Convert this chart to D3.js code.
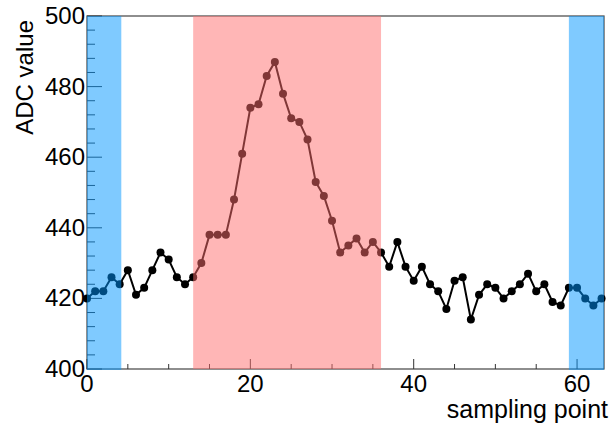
<!DOCTYPE html>
<html><head><meta charset="utf-8">
<script src="https://cdn.jsdelivr.net/npm/d3@7"></script>
<style>body{margin:0;background:#fff}svg{display:block}</style>
</head><body>
<script>
const samples = d3.range(64);
const adc = [420,422,422,426,424,428,421,423,428,433,431,426,424,426,430,438,438,438,448,461,
474,475,483,487,478,471,470,465,453,449,442,433,435,437,433,436,433,429,436,429,
425,429,424,422,417,425,426,414,421,424,423,420,422,424,427,422,424,419,418,423,
423,420,418,420];
const baselineRegions = [[0,4.2],[59,63.3]];
const signalRegion = [13,36];
const xTicks = [0,20,40,60];
const yTicks = [400,420,440,460,480,500];
const xTitle = "sampling point";
const yTitle = "ADC value";

const W=612,H=428, L=87, R=604, T=16, B=369;
const svg=d3.select("body").append("svg").attr("width",W).attr("height",H);
svg.append("rect").attr("width",W).attr("height",H).attr("fill","#fff");
const x=d3.scaleLinear().domain([0,63.3]).range([L,R]);
const y=d3.scaleLinear().domain([400,500]).range([B,T]);
const font="'Liberation Sans', Arial, Helvetica, sans-serif";

// frame
svg.append("rect").attr("x",L).attr("y",T).attr("width",R-L).attr("height",B-T)
  .attr("fill","none").attr("stroke","#444").attr("stroke-width",1.2);
// y ticks (inward)
const yMinor=d3.range(400,500.1,4);
svg.append("g").selectAll("line").data(yMinor).join("line")
  .attr("x1",L).attr("x2",d=>L+(d%20===0?15:8))
  .attr("y1",d=>y(d)).attr("y2",d=>y(d)).attr("stroke","#333").attr("stroke-width",1);
const xMinor=d3.range(0,63.3,5);
svg.append("g").selectAll("line").data(xMinor).join("line")
  .attr("y1",B).attr("y2",d=>B-(d%20===0?10:5))
  .attr("x1",d=>x(d)).attr("x2",d=>x(d)).attr("stroke","#333").attr("stroke-width",1);
// tick labels
svg.append("g").selectAll("text").data(yTicks).join("text")
  .attr("x",L-2).attr("y",d=>y(d)+8).attr("text-anchor","end")
  .attr("font-family",font).attr("font-size",24).attr("fill","#000").text(d=>d);
svg.append("g").selectAll("text").data(xTicks).join("text")
  .attr("x",d=>x(d)).attr("y",B+23).attr("text-anchor","middle")
  .attr("font-family",font).attr("font-size",24).attr("fill","#000").text(d=>d);
// titles
svg.append("text").attr("x",608).attr("y",418).attr("text-anchor","end")
  .attr("font-family",font).attr("font-size",25).text(xTitle);
svg.append("text").attr("transform","translate(33,20) rotate(-90)").attr("text-anchor","end")
  .attr("font-family",font).attr("font-size",24).text(yTitle);

// data
const line=d3.line().x((d,i)=>x(samples[i])).y(d=>y(d));
svg.append("path").datum(adc).attr("d",line).attr("fill","none").attr("stroke","#000").attr("stroke-width",2);
svg.append("g").selectAll("circle").data(adc).join("circle")
  .attr("cx",(d,i)=>x(samples[i])).attr("cy",d=>y(d)).attr("r",4).attr("fill","#000");

// overlays
svg.append("g").selectAll("rect").data(baselineRegions).join("rect")
  .attr("x",d=>x(d[0])).attr("width",d=>x(d[1])-x(d[0]))
  .attr("y",T).attr("height",B-T+1).attr("fill","rgb(0,150,255)").attr("fill-opacity",0.5);
svg.append("rect").attr("x",x(signalRegion[0])).attr("width",x(signalRegion[1])-x(signalRegion[0]))
  .attr("y",T).attr("height",B-T).attr("fill","rgb(255,110,110)").attr("fill-opacity",0.5);
</script>
</body></html>
